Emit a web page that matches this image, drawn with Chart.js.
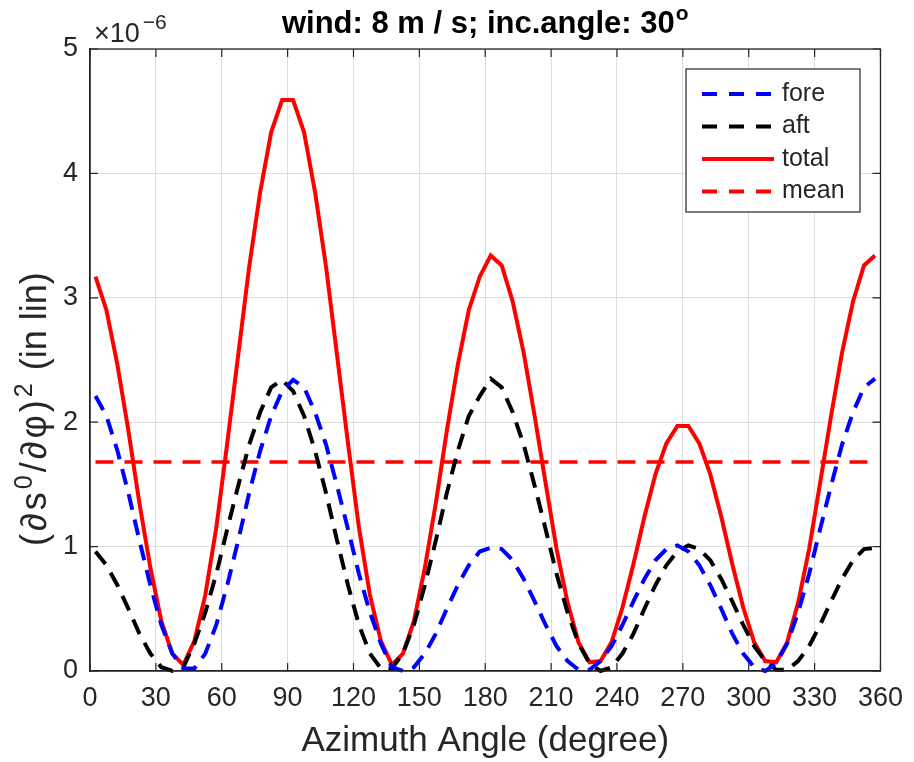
<!DOCTYPE html>
<html><head><meta charset="utf-8">
<script src="https://cdn.jsdelivr.net/npm/chart.js@4/dist/chart.umd.min.js"></script>
<style>html,body{margin:0;padding:0;background:#fff;}canvas{display:block}</style>
</head><body>
<canvas id="c" width="914" height="762"></canvas>
<script>
// ---- data (y values in units of 1e-6) ----
const azimuth = [2.5,7.5,12.5,17.5,22.5,27.5,32.5,37.5,42.5,47.5,52.5,57.5,62.5,67.5,72.5,77.5,82.5,87.5,92.5,97.5,102.5,107.5,112.5,117.5,122.5,127.5,132.5,137.5,142.5,147.5,152.5,157.5,162.5,167.5,172.5,177.5,182.5,187.5,192.5,197.5,202.5,207.5,212.5,217.5,222.5,227.5,232.5,237.5,242.5,247.5,252.5,257.5,262.5,267.5,272.5,277.5,282.5,287.5,292.5,297.5,302.5,307.5,312.5,317.5,322.5,327.5,332.5,337.5,342.5,347.5,352.5,357.5];
const fore = [2.21,2.05,1.77,1.43,1.05,0.69,0.37,0.14,0.02,0.02,0.14,0.37,0.69,1.05,1.43,1.77,2.05,2.25,2.34,2.28,2.08,1.82,1.49,1.14,0.78,0.47,0.22,0.03,0.00,0.03,0.14,0.30,0.50,0.69,0.85,0.96,0.99,0.98,0.89,0.74,0.56,0.37,0.20,0.08,0.01,0.01,0.08,0.20,0.37,0.56,0.74,0.89,0.98,1.01,0.96,0.85,0.69,0.50,0.30,0.14,0.03,0.00,0.06,0.22,0.47,0.78,1.14,1.49,1.82,2.08,2.28,2.35];
const aft = [0.96,0.85,0.69,0.50,0.30,0.14,0.03,0.00,0.03,0.22,0.47,0.78,1.14,1.49,1.82,2.08,2.28,2.34,2.25,2.05,1.77,1.43,1.05,0.69,0.37,0.14,0.02,0.02,0.14,0.37,0.69,1.05,1.43,1.77,2.05,2.21,2.35,2.28,2.08,1.82,1.49,1.14,0.78,0.47,0.22,0.06,0.00,0.03,0.14,0.30,0.50,0.69,0.85,0.96,1.01,0.98,0.89,0.74,0.56,0.37,0.20,0.08,0.01,0.01,0.08,0.20,0.37,0.56,0.74,0.89,0.98,0.99];
const total = [3.17,2.90,2.46,1.93,1.35,0.83,0.40,0.14,0.05,0.24,0.61,1.15,1.83,2.54,3.25,3.85,4.33,4.59,4.59,4.33,3.85,3.25,2.54,1.83,1.15,0.61,0.24,0.05,0.14,0.40,0.83,1.35,1.93,2.46,2.90,3.17,3.34,3.26,2.97,2.56,2.05,1.51,0.98,0.55,0.23,0.07,0.08,0.23,0.51,0.86,1.24,1.58,1.83,1.97,1.97,1.83,1.58,1.24,0.86,0.51,0.23,0.08,0.07,0.23,0.55,0.98,1.51,2.05,2.56,2.97,3.26,3.34];
const meanValue = 1.68;
const seriesLabels = ['fore','aft','total','mean'];
const xTickValues = [0,30,60,90,120,150,180,210,240,270,300,330,360];
const yTickValues = [0,1,2,3,4,5];
const yExponent = '-6';
const titleText = 'wind: 8 m / s; inc.angle: 30';
const titleSup = 'o';
const xTitle = 'Azimuth Angle (degree)';
// y title pieces: [text, isSuperscript]
const yTitleParts = [['(',0],['\u2202',0],['s',0],['0',1],['/',0],['\u2202',0],['\u03C6',0],[')',0],['2',1],[' (in lin)',0]];

const FONT = "'Liberation Sans', Arial, Helvetica, sans-serif";
const TXT = '#262626';
Chart.defaults.font.family = FONT;
Chart.defaults.color = TXT;

const pts = arr => azimuth.map((a, i) => ({x: a, y: arr[i]}));
const dash = [16, 10];

const decor = {
  id: 'decor',
  afterDraw(chart) {
    const {ctx, chartArea: a, scales: {x, y}} = chart;
    ctx.save();
    // box
    ctx.strokeStyle = TXT; ctx.lineWidth = 1.3;
    ctx.strokeRect(a.left, a.top, a.right - a.left, a.bottom - a.top);
    // inward ticks
    const tl = 8;
    ctx.lineWidth = 1.2;
    ctx.beginPath();
    xTickValues.forEach(v => {
      const px = x.getPixelForValue(v);
      ctx.moveTo(px, a.bottom); ctx.lineTo(px, a.bottom - tl);
      ctx.moveTo(px, a.top); ctx.lineTo(px, a.top + tl);
    });
    yTickValues.forEach(v => {
      const py = y.getPixelForValue(v);
      ctx.moveTo(a.left, py); ctx.lineTo(a.left + tl, py);
      ctx.moveTo(a.right, py); ctx.lineTo(a.right - tl, py);
    });
    ctx.stroke();

    // title (centered over the axes)
    ctx.fillStyle = '#000';
    ctx.textBaseline = 'alphabetic';
    ctx.font = 'bold 31px ' + FONT;
    const tw = ctx.measureText(titleText).width;
    ctx.font = 'bold 21px ' + FONT;
    const sw = ctx.measureText(titleSup).width;
    const tcx = (a.left + a.right) / 2;
    let tx0 = tcx - (tw + sw + 1) / 2;
    ctx.font = 'bold 31px ' + FONT;
    ctx.textAlign = 'left';
    ctx.fillText(titleText, tx0, 33);
    ctx.font = 'bold 21px ' + FONT;
    ctx.fillText(titleSup, tx0 + tw + 1, 20);

    // exponent label
    ctx.fillStyle = TXT;
    ctx.font = '27px ' + FONT;
    const base = a.top - 7;
    const ex = a.left + 4;
    ctx.fillText('\u00D710', ex, base);
    const w = ctx.measureText('\u00D710').width;
    ctx.font = '21px ' + FONT;
    ctx.fillText(yExponent.replace('-', '\u2212'), ex + w + 3, base - 13);

    // y axis title (rotated, with superscripts)
    ctx.save();
    ctx.translate(46, 546);
    ctx.rotate(-Math.PI / 2);
    const mainF = '36px ' + FONT, supF = '25px ' + FONT;
    const gap = 3;
    let cx = 0;
    yTitleParts.forEach(([t, s]) => {
      ctx.font = s ? supF : mainF;
      ctx.fillText(t, cx, s ? -14 : 0);
      cx += ctx.measureText(t).width + gap;
    });
    ctx.restore();

    // legend
    const ds = chart.data.datasets;
    const lx = 686, ly = 69, lw = 174, lh = 143;
    ctx.fillStyle = '#fff';
    ctx.fillRect(lx, ly, lw, lh);
    ctx.strokeStyle = TXT; ctx.lineWidth = 1.2;
    ctx.strokeRect(lx, ly, lw, lh);
    ctx.font = '25px ' + FONT;
    ctx.textBaseline = 'middle';
    ds.forEach((d, i) => {
      const cy = ly + 25 + i * 32.5;
      ctx.strokeStyle = d.borderColor;
      ctx.lineWidth = 4;
      ctx.setLineDash(d.borderDash && d.borderDash.length ? [15, 12] : []);
      ctx.beginPath(); ctx.moveTo(702, cy); ctx.lineTo(774, cy); ctx.stroke();
      ctx.setLineDash([]);
      ctx.fillStyle = TXT;
      ctx.fillText(d.label, 782, cy);
    });
    ctx.restore();
  }
};

new Chart(document.getElementById('c'), {
  type: 'line',
  data: {
    datasets: [
      {label: seriesLabels[0], data: pts(fore), borderColor: '#0000ff', borderDash: dash, borderWidth: 4},
      {label: seriesLabels[1], data: pts(aft), borderColor: '#000000', borderDash: dash, borderWidth: 4},
      {label: seriesLabels[2], data: pts(total), borderColor: '#ff0000', borderDash: [], borderWidth: 4},
      {label: seriesLabels[3], data: azimuth.map(a => ({x: a, y: meanValue})), borderColor: '#ff0000', borderDash: [18, 11], borderWidth: 3.5}
    ]
  },
  options: {
    responsive: false,
    animation: false,
    layout: {padding: {left: 0, right: 31, top: 49, bottom: 0}},
    elements: {point: {radius: 0}, line: {tension: 0, fill: false, borderCapStyle: 'butt'}},
    datasets: {line: {clip: 5}},
    plugins: {
      legend: {display: false},
      tooltip: {enabled: false},
      title: {display: false}
    },
    scales: {
      x: {
        type: 'linear', min: 0, max: 360,
        afterBuildTicks: s => { s.ticks = xTickValues.map(v => ({value: v})); },
        afterFit: s => { s.height = 91; },
        ticks: {font: {size: 27}, color: TXT, padding: 11, maxRotation: 0, autoSkip: false},
        grid: {color: '#dedede', lineWidth: 1, drawTicks: false},
        border: {display: true, color: TXT, width: 1.3},
        title: {display: true, text: xTitle, font: {size: 35}, color: TXT, padding: {top: 0, bottom: 0}}
      },
      y: {
        type: 'linear', min: 0, max: 5,
        afterBuildTicks: s => { s.ticks = yTickValues.map(v => ({value: v})); },
        afterFit: s => { s.width = 90; },
        ticks: {font: {size: 27}, color: TXT, padding: 12},
        grid: {color: '#dedede', lineWidth: 1, drawTicks: false},
        border: {display: true, color: TXT, width: 1.3},
        title: {display: false}
      }
    }
  },
  plugins: [decor]
});
</script>
</body></html>
